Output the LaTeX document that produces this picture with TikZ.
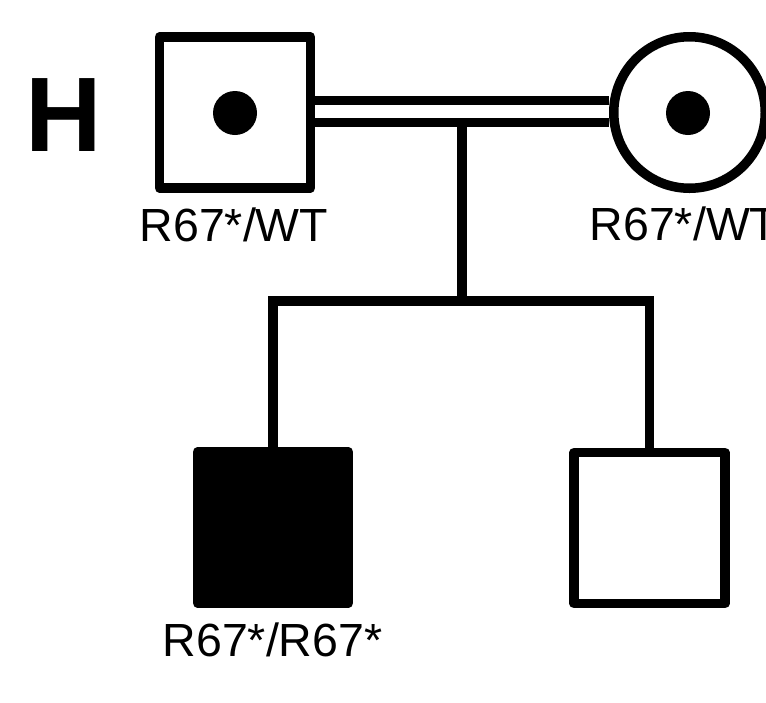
\documentclass[tikz,border=0pt]{standalone}
\usepackage{fontspec}
\setmainfont{Liberation Sans}
\begin{document}
\begin{tikzpicture}[x=1pt,y=-1pt,
  lw/.style={line width=9.5pt},
  male/.style={draw,lw,rectangle,minimum size=151pt,inner sep=0pt,line join=round},
  female/.style={draw,lw,circle,minimum size=151.5pt,inner sep=0pt},
  carrier/.style={fill,circle,minimum size=44pt,inner sep=0pt},
  geno/.style={font=\fontsize{46.5}{50}\selectfont,inner sep=0pt},
  link/.style={lw,line join=miter}]
\clip (0,0) rectangle (766,702);
\fill[white] (0,0) rectangle (766,702);
% panel letter
\node[anchor=base,inner sep=0pt,font=\fontsize{106}{110}\selectfont\bfseries] (H) at (63.5,151) {H};
% parents
\node[male] (f) at (235,112.5) {};
\node[carrier] (fd) at (235,113) {};
\node[female] (m) at (689.5,112.5) {};
\node[carrier] (md) at (688,113) {};
\node[geno,anchor=base] (fl) at (234,241) {R67*/WT};
\node[geno,anchor=base west] (ml) at (589.5,240) {R67*/WT};
% children
\node[male,fill=black] (c1) at (273,527.5) {};
\node[male] (c2) at (649.5,528) {};
\node[geno,anchor=base] (c1l) at (272.5,656) {R67*/R67*};
% marriage (consanguineous double line)
\draw[link] ([yshift=12pt]f.east) -- ([yshift=12pt]m.west);
\draw[link] ([yshift=-10pt]f.east) -- ([yshift=-10pt]m.west);
\coordinate (mc) at (462,118);
\coordinate (sib) at (462,301);
\draw[link] (mc) -- (sib);
\draw[link] (c1.north) |- (sib) -| (c2.north);
\end{tikzpicture}
\end{document}
